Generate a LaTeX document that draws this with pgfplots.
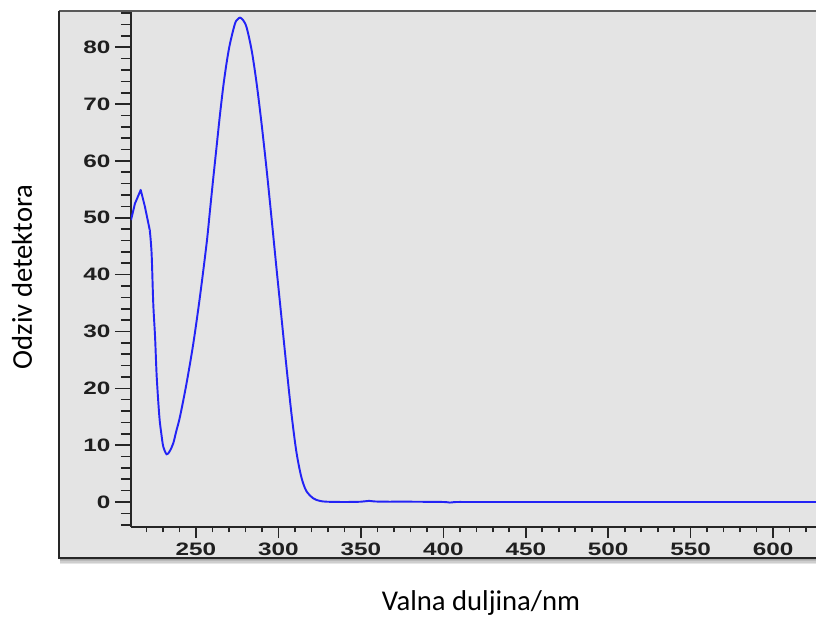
\documentclass[border=0pt]{standalone}
\usepackage{fontspec}
\setmainfont{Liberation Sans}
\newfontfamily\labelfont{Carlito}
\newfontfamily\tickfont[FakeStretch=1.35]{Liberation Sans}
\usepackage{pgfplots}
\pgfplotsset{compat=1.18}

\definecolor{panel}{RGB}{228,228,228}
\definecolor{curve}{RGB}{35,35,245}

\pgfplotsset{
  specbase/.style={
    at={(0pt,0pt)}, anchor=south west,
    scale only axis, width=513.75pt, height=386.25pt,
    xmin=210.6, xmax=626, ymin=-4.4, ymax=86.2,
    axis x line*=bottom, axis y line*=left,
    tick align=outside,
    tick style={line width=1.2pt, black!85},
    /pgf/number format/assume math mode=true,
    tick label style={font=\tickfont\bfseries\fontsize{13.5}{13.5}\selectfont, text=black!88},
  },
}

\begin{document}
\begin{tikzpicture}
\useasboundingbox (-98.25pt,-70.5pt) rectangle (513.75pt,395.25pt);
\clip (-98.25pt,-70.5pt) rectangle (513.75pt,395.25pt);

% panel with shadow
\foreach \d in {1.2,2.4,3.6,4.8}
  \fill[black, opacity=0.1] (-53pt,-23.25pt-\d pt) rectangle (530pt,-23.25pt);
\fill[panel] (-54pt,-23.25pt) rectangle (530pt,387pt);
\draw[gray!70!black, line width=1pt] (-54pt,387pt) -- (530pt,387pt);
\draw[black!85, line width=1.3pt] (-54pt,387pt) -- (-54pt,-23.25pt) -- (530pt,-23.25pt);

% y axis with its ticks, and the curve
\begin{axis}[specbase,
  axis line style={line width=1.6pt, black!85},
  xtick=\empty,
  ytick={0,10,...,80}, minor ytick={-4,-2,...,86},
  major tick length=12pt, minor tick length=7.5pt,
]
\addplot[curve, line width=1.45pt, line join=round] coordinates {
(210.6,49.6) (213,52.5) (216.5,54.9) (219,52.0) (222,47.8)
};
\addplot[curve, line width=1.45pt, smooth, tension=0.5] coordinates {
(222,47.8) (223.1,43.7)
(224.1,34.9) (225.2,29.0) (226.2,22.0) (227.8,15.0) (229,12.0) (230.2,9.7)
(232.2,8.4) (234,8.9) (236.2,10.3) (238,12.4) (240.3,15.0) (244.3,20.9)
(248.4,27.9) (252.4,36.1) (256.5,45.6) (258.5,51.3) (260.5,57.0) (262.5,62.5)
(264.5,68.0) (266.6,73.2) (268.6,77.3) (270.6,80.6) (273.6,84.1) (275.2,84.9)
(276.7,85.2) (278.5,84.8) (280.7,83.5) (283.8,79.4) (286.8,73.6) (289.8,66.5)
(292.8,58.6) (295.8,50.0) (298.8,41.2) (301.8,32.6) (304.8,24.0) (307.8,15.8)
(310.8,9.0) (313.8,4.5) (316.8,2.0) (321.1,0.65) (325,0.2) (329.2,0.05) (340,0)
(350,0.05) (355,0.2) (358,0.1) (365,0.05) (380,0.05) (400,0) (404,-0.1) (408,0)
(420,0) (500,0) (626,0)
};
\end{axis}

% x ticks (shorter) and labels
\begin{axis}[specbase,
  axis line style={draw=none},
  ytick=\empty,
  xtick={250,300,...,600}, minor xtick={220,230,...,620},
  major tick length=8.25pt, minor tick length=4pt,
]
\end{axis}

\node[font=\labelfont\fontsize{21.5}{21.5}\selectfont, rotate=90] at (-81.75pt,187.5pt) {Odziv detektora};
\node[font=\labelfont\fontsize{21.5}{21.5}\selectfont] at (262.5pt,-57pt) {Valna duljina/nm};
\end{tikzpicture}
\end{document}
